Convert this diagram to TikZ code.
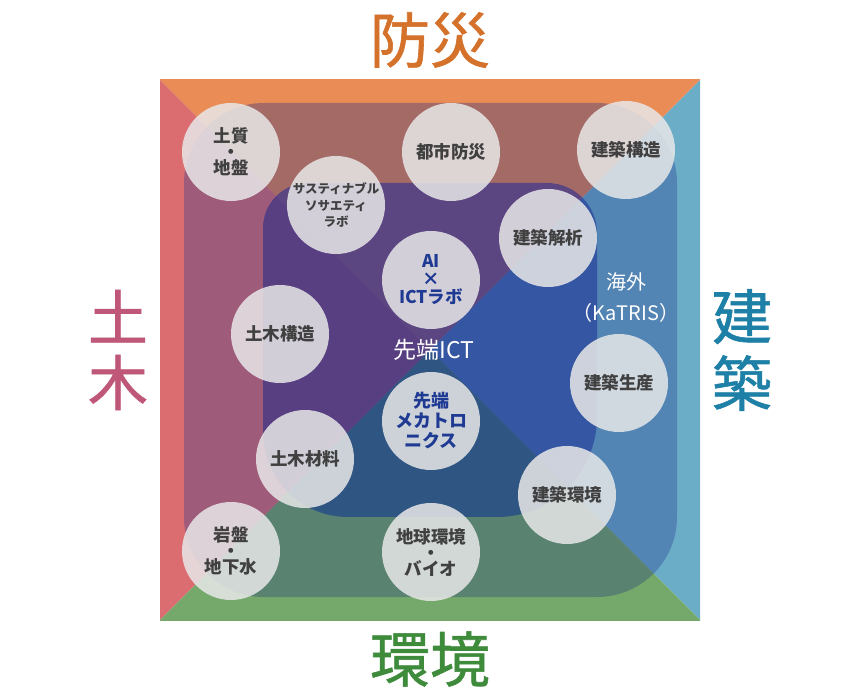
\documentclass[tikz,border=0pt]{standalone}
\usepackage{fontspec}
\newfontfamily\jp{Noto Sans CJK JP}
\newfontfamily\jpm{Noto Sans CJK JP}[FakeBold=1]
\definecolor{oTop}{HTML}{E98C55}
\definecolor{oLeft}{HTML}{DB6D70}
\definecolor{oRight}{HTML}{6BADC7}
\definecolor{oBot}{HTML}{74A96B}
\definecolor{mTop}{HTML}{A46B66}
\definecolor{mLeft}{HTML}{9F5B7A}
\definecolor{mRight}{HTML}{5284B4}
\definecolor{mBot}{HTML}{5A8270}
\definecolor{iTop}{HTML}{5B4682}
\definecolor{iLeft}{HTML}{573F82}
\definecolor{iRight}{HTML}{3556A3}
\definecolor{iBot}{HTML}{2F5582}
\definecolor{bubfill}{HTML}{E8E8E8}
\definecolor{bubtext}{HTML}{404040}
\definecolor{ictblue}{HTML}{1F3A93}
\definecolor{cBosai}{HTML}{D4722C}
\definecolor{cDoboku}{HTML}{BF5878}
\definecolor{cKenchiku}{HTML}{1E80A6}
\definecolor{cKankyo}{HTML}{3F8B3C}
\newcommand\fourtri[4]{%
  \fill[#1] (430,350) -- (-300,-380) -- (1160,-380) -- cycle;
  \fill[#2] (430,350) -- (-300,-380) -- (-300,1080) -- cycle;
  \fill[#3] (430,350) -- (1160,-380) -- (1160,1080) -- cycle;
  \fill[#4] (430,350) -- (-300,1080) -- (1160,1080) -- cycle;}
\begin{document}
\begin{tikzpicture}[x=1pt,y=-1pt,
  bub/.style={circle, fill=bubfill, fill opacity=0.85, text opacity=1,
    minimum size=98pt, inner sep=0pt, align=center, text=bubtext,
    font=\jp\bfseries\fontsize{17.5}{17.5}\selectfont},
  big/.style={inner sep=0pt, align=center, font=\jpm\fontsize{60}{65}\selectfont},
  wlabel/.style={text=white, inner sep=0pt, align=center}]
\path[use as bounding box, fill=white] (0,0) rectangle (860,700);
% outer square
\begin{scope}
  \clip (160,80) rectangle (700,620);
  \fourtri{oTop}{oLeft}{oRight}{oBot}
\end{scope}
% middle rounded square
\begin{scope}
  \clip[rounded corners=80pt] (184,103) rectangle (677,597);
  \fourtri{mTop}{mLeft}{mRight}{mBot}
\end{scope}
% inner rounded square
\begin{scope}
  \clip (263,350) [rounded corners=45pt] -- (263,183) [rounded corners=50pt] -- (597,183)
        [rounded corners=100pt] -- (597,517) [rounded corners=85pt] -- (263,517)
        -- cycle;
  \fourtri{iTop}{iLeft}{iRight}{iBot}
\end{scope}
% bubbles
\node[bub, font=\jp\bfseries\fontsize{17.5}{16}\selectfont] (dojiban) at (231,152) {土質\\・\\地盤};
\node[bub] (toshi) at (451,152) {都市防災};
\node[bub] (kkozo) at (626,150) {建築構造};
\node[bub, font=\jp\bfseries\fontsize{12.5}{16.5}\selectfont] (sus) at (336,205) {サスティナブル\\ソサエティ\\ラボ};
\node[bub] (kaiseki) at (548,238) {建築解析};
\node[bub, text=ictblue, font=\jp\bfseries\fontsize{17.5}{18}\selectfont] (ai) at (431,280) {AI\\×\\ICTラボ};
\node[bub] (dkozo) at (280,334) {土木構造};
\node[bub] (seisan) at (619,383) {建築生産};
\node[bub, text=ictblue, font=\jp\bfseries\fontsize{18}{20}\selectfont] (meca) at (431,421) {先端\\メカトロ\\ニクス};
\node[bub] (zairyo) at (305,459) {土木材料};
\node[bub] (kankyo) at (567,495) {建築環境};
\node[bub, font=\jp\bfseries\fontsize{17.5}{16}\selectfont] (ganban) at (231,551) {岩盤\\・\\地下水};
\node[bub, font=\jp\bfseries\fontsize{17.5}{16}\selectfont] (chikyu) at (431,552) {地球環境\\・\\バイオ};
% white labels
\node[wlabel, font=\jp\fontsize{23}{23}\selectfont] (ict) at (434,350) {先端ICT};
\node[wlabel, font=\jp\fontsize{20}{31}\selectfont] (kaigai) at (626,298) {海外\\（KaTRIS）};
% big labels
\node[big, text=cBosai] (bosai) at (430,40) {防災};
\node[big, text=cDoboku] (doboku) at (118,350) {土\\木};
\node[big, text=cKenchiku, font=\jpm\fontsize{60}{67}\selectfont] (kenchiku) at (742,350) {建\\築};
\node[big, text=cKankyo] (kankyoL) at (430,659) {環境};
\end{tikzpicture}
\end{document}
